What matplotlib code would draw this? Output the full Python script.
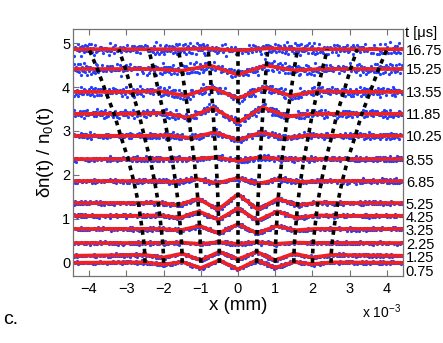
import numpy as np
import matplotlib
matplotlib.use("Agg")
import matplotlib.pyplot as plt

plt.rcParams['font.family'] = ['Liberation Sans', 'DejaVu Sans']
plt.rcParams['mathtext.fontset'] = 'custom'
plt.rcParams['mathtext.rm'] = 'Liberation Sans'
plt.rcParams['mathtext.it'] = 'Liberation Sans:italic'

# time of each profile (right hand labels) and the vertical offset of its trace
t_us = [0.75, 1.25, 2.25, 3.25, 4.25, 5.25, 6.85, 8.55, 10.25, 11.85, 13.55, 15.25, 16.75]
offset = [0.0, 0.16, 0.45, 0.77, 1.07, 1.36, 1.86, 2.36, 2.89, 3.39, 3.89, 4.41, 4.86]
# where the time labels sit on the right axis (the lowest one is pushed down)
label_y = [-0.18, 0.15, 0.45, 0.76, 1.06, 1.36, 1.86, 2.36, 2.89, 3.39, 3.89, 4.41, 4.86]
# expansion of the fringe pattern (x position of the guide lines relative to t=0.75)
scale = [1.0, 1.0, 1.01, 1.03, 1.05, 1.07, 1.12, 1.18, 1.26, 1.33, 1.42, 1.51, 1.60]

# fringe positions at the first time (x 10^-3)
x_nodes = [-2.5, -2.0, -1.5, -1.0, -0.5, 0.0, 0.5, 1.0, 1.5, 2.0, 2.5]
# fit value (relative to the offset) at each scaled fringe position
fit_dy = [
    [0.01, -0.04, 0.02, -0.12, 0.06, -0.15, 0.06, -0.11, 0.02, -0.03, 0.01],
    [0.02, -0.04, 0.05, -0.10, 0.09, -0.08, 0.09, -0.10, 0.05, -0.04, 0.02],
    [0.0, 0.0, 0.01, -0.02, 0.02, -0.02, 0.02, -0.02, 0.01, 0.0, 0.0],
    [0.0, 0.0, -0.03, 0.07, -0.10, 0.11, -0.10, 0.07, -0.03, 0.0, 0.0],
    [0.0, 0.01, -0.05, 0.10, -0.09, 0.17, -0.11, 0.10, -0.05, 0.01, 0.0],
    [0.0, 0.01, -0.05, 0.10, -0.15, 0.20, -0.15, 0.10, -0.05, 0.01, 0.0],
    [0.0, 0.0, -0.02, 0.05, -0.05, 0.07, -0.06, 0.05, -0.02, 0.0, 0.0],
    [0.0, 0.0, 0.0, 0.0, 0.04, -0.04, 0.04, 0.0, 0.0, 0.0, 0.0],
    [0.0, 0.0, 0.01, -0.05, 0.08, -0.10, 0.08, -0.05, 0.01, 0.0, 0.0],
    [0.0, 0.0, 0.02, -0.09, 0.14, -0.20, 0.15, -0.06, 0.0, 0.0, 0.0],
    [0.0, 0.0, 0.02, -0.09, 0.10, -0.15, 0.10, -0.09, 0.02, 0.0, 0.0],
    [0.0, 0.0, 0.0, -0.04, 0.08, -0.13, 0.08, -0.03, 0.0, 0.0, 0.0],
    [0.0, 0.0, 0.0, 0.0, 0.015, -0.03, 0.02, 0.0, 0.0, 0.0, 0.0],
]
# scatter of the measured points around the fit
spread = [0.05, 0.05, 0.05, 0.055, 0.055, 0.06, 0.07, 0.08, 0.09, 0.12, 0.14, 0.16, 0.17]
# hand typed residual pattern
jitter = [0.31, -0.72, 0.05, 0.88, -0.43, -0.11, 0.64, -0.95, 0.27, 0.49,
          -0.58, 0.13, -0.26, 0.92, -0.81, 0.38, -0.04, 0.71, -0.67, 0.19,
          -0.35, 0.83, -0.15, 0.56, -0.89, 0.02, 0.44, -0.52, 0.97, -0.30,
          0.12, -0.76, 0.60, -0.08, 0.35, -0.99, 0.77, -0.41, 0.23, -0.63,
          0.51, -0.19, 0.86, -0.55, 0.09, -0.84, 0.40, 0.68, -0.22, -0.47,
          0.15, -0.70, 0.94, -0.12, 0.29, -0.60, 0.75, -0.37, 0.58, -0.02]

x_ticks = [-4, -3, -2, -1, 0, 1, 2, 3, 4]
y_ticks = [0, 1, 2, 3, 4, 5]
xlim = (-4.43, 4.43)
ylim = (-0.3, 5.32)

fig = plt.figure(figsize=(4.43, 3.43), dpi=100)
ax = fig.add_axes([73/443, 67/343, 330/443, 247/343])

xd = np.arange(-4.4, 4.4001, 0.025)
k = np.arange(len(xd))
for i in range(len(t_us)):
    xs = [xlim[0]] + [scale[i]*x for x in x_nodes] + [xlim[1]]
    ys = [offset[i]] + [offset[i] + d for d in fit_dy[i]] + [offset[i]]
    base = np.interp(xd, xs, ys)
    noise = 0.6*np.take(jitter, (k + 7*i) % 60) + 0.4*np.take(jitter, (3*k + 11*i) % 59)
    ax.plot(xd, base + spread[i]*noise, 'o', ms=2.3, mew=0, color='#1f40ff', zorder=1)
    ax.plot(xs, ys, color='#ee2222', lw=2.7, zorder=2, solid_joinstyle='round')

# dotted guide lines following each fringe
for x0 in x_nodes:
    ax.plot([x0*s for s in scale], offset, color='k', lw=2.6, dashes=(1.3, 1.3), zorder=3)

ax.set_xlim(xlim)
ax.set_ylim(ylim)
ax.set_xticks(x_ticks)
ax.set_yticks(y_ticks)
ax.set_xticklabels(['\u2212%d' % -v if v < 0 else '%d' % v for v in x_ticks])
ax.tick_params(direction='in', length=4, width=0.8, color='0.45', labelsize=10.5,
               top=True, pad=4)
ax.tick_params(axis='y', pad=2)
for sp in ax.spines.values():
    sp.set_color('0.45')
    sp.set_linewidth(0.9)

ax2 = ax.twinx()
ax2.set_ylim(ylim)
ax2.set_yticks(label_y)
ax2.set_yticklabels(['%.2f' % t for t in t_us])
ax2.tick_params(direction='in', length=0, labelsize=10.5, pad=2)
for sp in ax2.spines.values():
    sp.set_visible(False)

ax.set_xlabel('x (mm)', fontsize=13.5, labelpad=1)
ax.set_ylabel('\u03b4n(t) / n$_0$(t)', fontsize=13.5, labelpad=4)
fig.text(405/443, 1 - 33/343, 't [\u03bcs]', fontsize=10.5, va='center', ha='left')
fig.text(362/443, 1 - 312/343, 'x 10$^{\u22123}$', fontsize=10, va='center', ha='left')
fig.text(3/443, 1 - 320/343, 'c.', fontsize=14, va='center', ha='left')

fig.savefig('out.png', dpi=100)
